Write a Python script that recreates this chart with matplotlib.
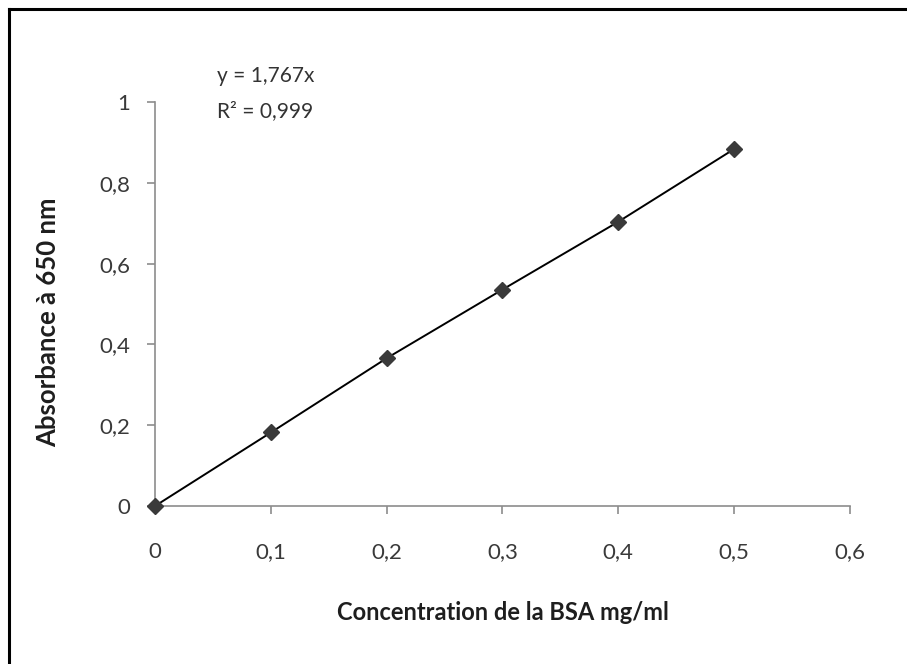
import matplotlib
matplotlib.use('Agg')
import matplotlib.pyplot as plt
from matplotlib.ticker import FuncFormatter
from matplotlib.lines import Line2D

# BSA standard curve data
concentration = [0.0, 0.1, 0.2, 0.3, 0.4, 0.5]
absorbance = [0.0, 0.182, 0.366, 0.536, 0.704, 0.884]
x_ticks = [0, 0.1, 0.2, 0.3, 0.4, 0.5, 0.6]
y_ticks = [0, 0.2, 0.4, 0.6, 0.8, 1.0]
slope = 1.767
r2 = 0.999

plt.rcParams['font.family'] = ['Lato', 'DejaVu Sans']

fig = plt.figure(figsize=(9.07, 6.64), dpi=100)
ax = fig.add_axes([0.171, 0.238, 0.766, 0.608])

ax.plot(concentration, absorbance, color='black', linewidth=1.4,
        marker='D', markersize=8, markerfacecolor='#3a3a3a',
        markeredgecolor='#3a3a3a', zorder=3, clip_on=False)

ax.set_xlim(0, 0.6)
ax.set_ylim(0, 1.0)
ax.set_xticks(x_ticks)
ax.set_yticks(y_ticks)

def comma_fmt(v, pos):
    s = ('%.1f' % v).rstrip('0').rstrip('.')
    return s.replace('.', ',')

ax.xaxis.set_major_formatter(FuncFormatter(comma_fmt))
ax.yaxis.set_major_formatter(FuncFormatter(comma_fmt))

for side in ['top', 'right']:
    ax.spines[side].set_visible(False)
for side in ['left', 'bottom']:
    ax.spines[side].set_color('#8c8c8c')
    ax.spines[side].set_linewidth(1.2)

ax.tick_params(axis='both', direction='out', length=6, width=1.2,
               color='#8c8c8c', labelsize=16, labelcolor='#3a3a3a')
ax.tick_params(axis='x', pad=20)
ax.tick_params(axis='y', pad=12)

ax.set_xlabel('Concentration de la BSA mg/ml', fontsize=17,
              fontweight='bold', color='#1e1e1e', labelpad=28)
ax.set_ylabel('Absorbance à 650 nm', fontsize=18.5,
              fontweight='bold', color='#1e1e1e')
ax.yaxis.set_label_coords(-0.136, 0.455)

# Trendline equation
fig.text(0.239, 0.885, 'y = %sx' % ('%.3f' % slope).replace('.', ','),
         fontsize=15, color='#333333', va='center', ha='left')
fig.text(0.239, 0.833, 'R² = %s' % ('%.3f' % r2).replace('.', ','),
         fontsize=15, color='#333333', va='center', ha='left')

# Frame around the chart area
fig.add_artist(Line2D([0.010, 1.0], [0.9865, 0.9865], color='black',
                      linewidth=2.2, transform=fig.transFigure))
fig.add_artist(Line2D([0.010, 0.010], [0.0, 0.9865], color='black',
                      linewidth=2.2, transform=fig.transFigure))

fig.savefig('out.png', dpi=100)
